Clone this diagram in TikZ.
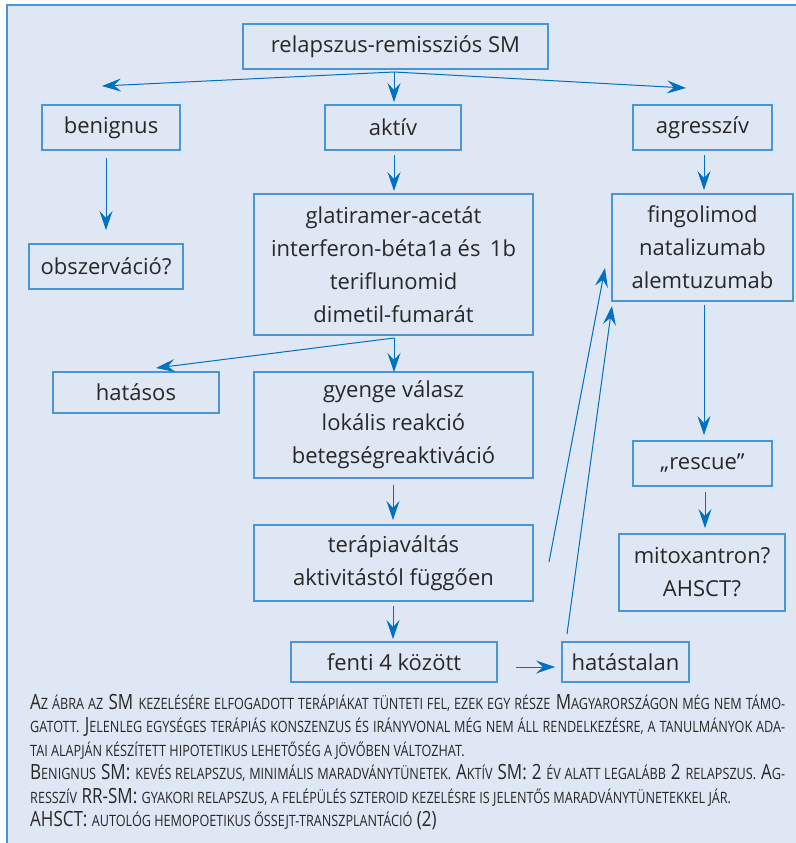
\documentclass[tikz,border=0pt]{standalone}
\usepackage{fontspec}
\setmainfont{Open Sans}
\newfontfamily\capfont[FakeStretch=0.81]{Open Sans}
\usetikzlibrary{arrows.meta}
\definecolor{bgblue}{RGB}{223,230,244}
\definecolor{boxblue}{RGB}{74,150,212}
\definecolor{arrowblue}{RGB}{0,112,192}
\definecolor{txt}{RGB}{40,40,40}
\newcommand\smc[1]{{\fontsize{15.6}{23}\selectfont\MakeUppercase{#1}}}
\newcommand\capline[1]{\makebox[755pt][s]{#1}}
\newcommand\capend[1]{\makebox[755pt][l]{#1}}
\tikzset{
  box/.style={draw=boxblue, line width=1.2pt, inner sep=0pt, text=txt, align=center,
    font=\fontsize{22}{33}\selectfont},
  arr/.style={draw=arrowblue, line width=1pt, -{Stealth[length=19pt,width=13pt,inset=7pt]}},
}
\begin{document}
\begin{tikzpicture}[x=1pt,y=-1pt]
\useasboundingbox (0,0) rectangle (795,843);
\fill[bgblue] (7,5) rectangle (800,850);
\draw[boxblue,line width=1.5pt] (7,850) -- (7,5) -- (800,5);

% boxes
\node[box, minimum width=305pt, minimum height=45pt] (top) at (395.5,46.5) {relapszus-remissziós SM};
\node[box, minimum width=138pt, minimum height=45pt] (ben) at (111,127.5) {benignus};
\node[box, minimum width=136pt, minimum height=45pt] (akt) at (393,127.5) {aktív};
\node[box, minimum width=139pt, minimum height=45pt] (agr) at (702.5,127.5) {agresszív};
\node[box, minimum width=154pt, minimum height=45pt] (obs) at (106,266.5) {obszerváció?};
\node[box, minimum width=279pt, minimum height=141pt] (gla) at (393.5,264.5)
  {glatiramer-acetát\\interferon-béta1a és\ \,1b\\teriflunomid\\dimetil-fumarát};
\node[box, minimum width=166pt, minimum height=41pt] (hat) at (136,392.5) {hatásos};
\node[box, minimum width=279pt, minimum height=106pt] (gye) at (393.5,425)
  {gyenge válasz\\lokális reakció\\betegségreaktiváció};
\node[box, minimum width=279pt, minimum height=76pt] (ter) at (393.5,563)
  {terápiaváltás\\aktivitástól függően};
\node[box, minimum width=206pt, minimum height=40pt] (fen) at (394,662) {fenti 4 között};
\node[box, minimum width=127pt, minimum height=40pt] (hts) at (625.5,662) {hatástalan};
\node[box, minimum width=181pt, minimum height=107pt] (fin) at (702.5,247.5)
  {fingolimod\\natalizumab\\alemtuzumab};
\node[box, minimum width=139pt, minimum height=45pt] (res) at (702.5,463.5) {„rescue”};
\node[box, minimum width=166pt, minimum height=77pt] (mit) at (702,572.5)
  {mitoxantron?\\AHSCT?};

% connector end points
\coordinate (t0) at (394,72);
\coordinate (benT) at (102,86);
\coordinate (aktT) at (394,102);
\coordinate (agrT) at (686,88);
\coordinate (ben0) at (106,158);
\coordinate (obsT) at (106,230);
\coordinate (akt0) at (394,155);
\coordinate (glaT) at (394,191);
\coordinate (agr0) at (704,155);
\coordinate (finT) at (704,190);
\coordinate (gla0) at (394,338);
\coordinate (hatT) at (156,368);
\coordinate (gyeT) at (394,372);
\coordinate (gye0) at (393,485);
\coordinate (terT) at (393,520);
\coordinate (ter0) at (393,606);
\coordinate (fenT) at (393,639);
\coordinate (fen0) at (516,667);
\coordinate (htsT) at (555,667);
\coordinate (ter1) at (549,562);
\coordinate (finA) at (605,268);
\coordinate (hts0) at (567,634);
\coordinate (finB) at (612,306);
\coordinate (fin0) at (704,305);
\coordinate (resT) at (704,435);
\coordinate (res0) at (705,492);
\coordinate (mitT) at (705,528);

\draw[arr] (t0) -- (benT);
\draw[arr] (t0) -- (aktT);
\draw[arr] (t0) -- (agrT);
\draw[arr] (ben0) -- (obsT);
\draw[arr] (akt0) -- (glaT);
\draw[arr] (agr0) -- (finT);
\draw[arr] (gla0) -- (hatT);
\draw[arr] (gla0) -- (gyeT);
\draw[arr] (gye0) -- (terT);
\draw[arr] (ter0) -- (fenT);
\draw[arr] (fen0) -- (htsT);
\draw[arr] (ter1) -- (finA);
\draw[arr] (hts0) -- (finB);
\draw[arr] (fin0) -- (resT);
\draw[arr] (res0) -- (mitT);

% caption
\node[anchor=west, inner sep=0pt, text=txt, align=left,
  font=\capfont\fontsize{21}{23.5}\selectfont] (cap) at (30,762) {%
\capline{A\smc{z ábra az} SM \smc{kezelésére elfogadott terápiákat tünteti fel, ezek egy része} M\smc{agyarországon még nem támo-}}\\
\capline{\smc{gatott.} J\smc{elenleg egységes terápiás konszenzus és irányvonal még nem áll rendelkezésre, a tanulmányok ada-}}\\
\capend{\smc{tai alapján készített hipotetikus lehetőség a jövőben változhat.}}\\
\capline{B\smc{enignus} SM: \smc{kevés relapszus, minimális maradványtünetek.} A\smc{ktív} SM: 2 \smc{év alatt legalább} 2 \smc{relapszus.} A\smc{g-}}\\
\capend{\smc{resszív} RR-SM: \smc{gyakori relapszus, a felépülés szteroid kezelésre is jelentős maradványtünetekkel jár.}}\\
\capend{AHSCT: \smc{autológ hemopoetikus őssejt-transzplantáció} (2)}};
\end{tikzpicture}
\end{document}
